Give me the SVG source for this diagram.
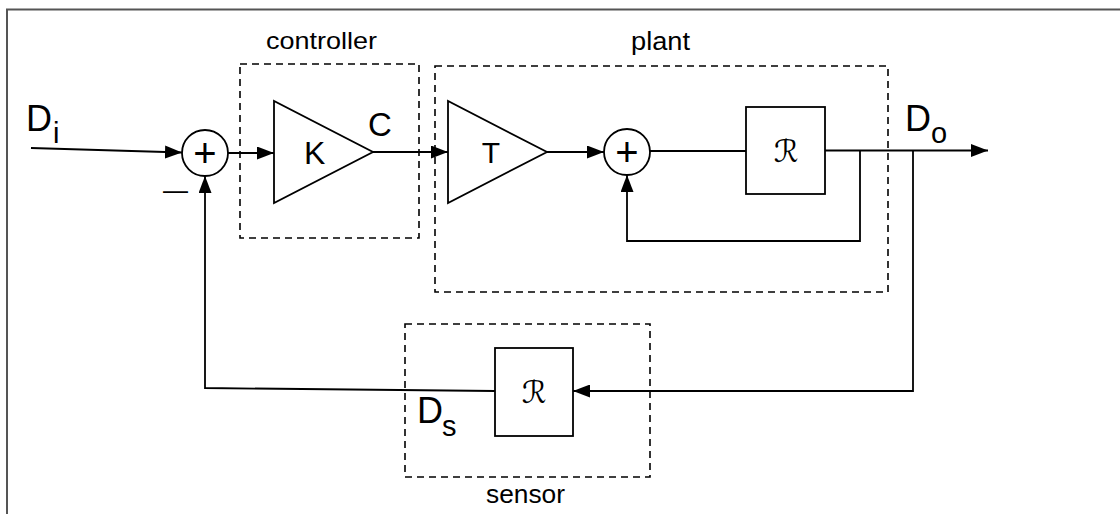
<svg xmlns="http://www.w3.org/2000/svg" width="1120" height="514" viewBox="0 0 1120 514">
<style>
.bg{fill:#fff}
.frame{fill:none;stroke:#555;stroke-width:2}
.dash{fill:none;stroke:#000;stroke-width:1.6;stroke-dasharray:7 5}
.blk{fill:#fff;stroke:#000;stroke-width:1.8}
.wire{fill:none;stroke:#000;stroke-width:1.8}
.lbl{font-family:"Liberation Sans",Arial,sans-serif;fill:#000}
.cal{font-family:"DejaVu Sans","Noto Sans",sans-serif;fill:#000}
</style>
<defs>
<marker id="ah" viewBox="0 0 17 13" refX="17" refY="6.5" markerWidth="17" markerHeight="13" markerUnits="userSpaceOnUse" orient="auto">
<path d="M0,0 L17,6.5 L0,13 z" fill="#000"/>
</marker>
</defs>
<rect class="bg" x="0" y="0" width="1120" height="514"/>
<path class="frame" d="M7,514 V9.5 H1120"/>

<g id="controller">
<rect class="dash" x="240" y="64" width="179" height="174"/>
<text class="lbl" x="266" y="49" font-size="24" textLength="111" lengthAdjust="spacingAndGlyphs">controller</text>
</g>
<g id="plant">
<rect class="dash" x="435" y="66" width="453" height="226"/>
<text class="lbl" x="631" y="50" font-size="25" textLength="59" lengthAdjust="spacingAndGlyphs">plant</text>
</g>
<g id="sensor">
<rect class="dash" x="405" y="324" width="245" height="153"/>
<text class="lbl" x="486" y="503" font-size="25" textLength="79" lengthAdjust="spacingAndGlyphs">sensor</text>
</g>

<g id="connectors">
<path class="wire" d="M31,148 L182,152.5" marker-end="url(#ah)"/>
<path class="wire" d="M228,153 H274" marker-end="url(#ah)"/>
<path class="wire" d="M373,152 H448" marker-end="url(#ah)"/>
<path class="wire" d="M547,152 H604" marker-end="url(#ah)"/>
<path class="wire" d="M650,151 H746"/>
<path class="wire" d="M825,150.5 H988" marker-end="url(#ah)"/>
<path class="wire" d="M860,150.5 V241 H627 V175" marker-end="url(#ah)"/>
<path class="wire" d="M913,150.5 V391 H573" marker-end="url(#ah)"/>
<path class="wire" d="M495,391 L205,388 V176" marker-end="url(#ah)"/>
</g>

<g id="sum1">
<circle class="blk" cx="205" cy="153" r="23"/>
<text class="lbl" x="205" y="167" font-size="40" text-anchor="middle">+</text>
</g>
<g id="gainK">
<polygon class="blk" points="274,101 274,203 373,152"/>
<text class="lbl" x="304" y="164" font-size="32">K</text>
</g>
<g id="gainT">
<polygon class="blk" points="448,101 448,203 547,152"/>
<text class="lbl" x="491" y="163" font-size="30" text-anchor="middle">T</text>
</g>
<g id="sum2">
<circle class="blk" cx="627" cy="152" r="23"/>
<text class="lbl" x="627" y="166" font-size="40" text-anchor="middle">+</text>
</g>
<g id="plantR">
<rect class="blk" x="746" y="107" width="79" height="87"/>
<text class="cal" x="786" y="161.5" font-size="31" text-anchor="middle">ℛ</text>
</g>
<g id="sensorR">
<rect class="blk" x="495" y="348" width="78" height="88"/>
<text class="cal" x="534" y="402.5" font-size="31" text-anchor="middle">ℛ</text>
</g>

<g id="labels">
<text class="lbl" x="26" y="131" font-size="36">D</text>
<text class="lbl" x="53" y="143" font-size="29">i</text>
<text class="lbl" x="163" y="199" font-size="25">—</text>
<text class="lbl" x="368" y="136" font-size="33">C</text>
<text class="lbl" x="905" y="131" font-size="36">D</text>
<text class="lbl" x="931" y="143" font-size="29">o</text>
<text class="lbl" x="417" y="423" font-size="36">D</text>
<text class="lbl" x="442" y="436" font-size="29">s</text>
</g>
</svg>
